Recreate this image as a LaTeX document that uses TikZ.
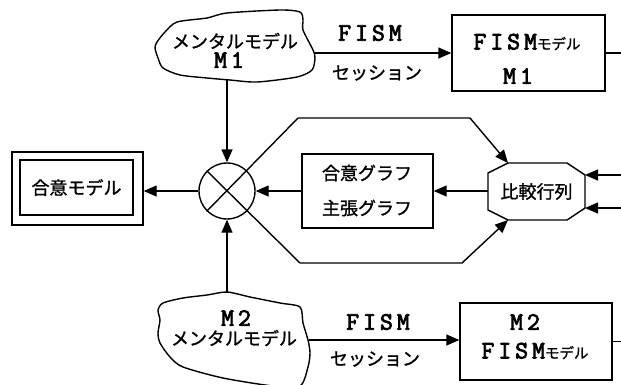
\documentclass[tikz,border=0pt]{standalone}
\usepackage{fontspec}
\newfontfamily\jp[FakeBold=1.2]{Noto Sans CJK JP}
\newfontfamily\mono[LetterSpace=16,FakeBold=3]{Latin Modern Mono}
\usetikzlibrary{arrows.meta}
\begin{document}
\begin{tikzpicture}[x=1pt,y=-1pt, line width=1.4pt,
  jt/.style={font=\jp\fontsize{18}{20}\selectfont, inner sep=0pt},
  lt/.style={font=\mono\fontsize{25}{27}\selectfont, inner sep=0pt},
  box/.style={draw, rectangle, inner sep=0pt},
  arr/.style={-{Triangle[length=13pt,width=11pt]}},
  cloud/.style={line join=round}
]
\useasboundingbox[fill=white] (0,0) rectangle (621,384);

% ---- top cloud (M1)
\draw[cloud] plot[smooth cycle, tension=0.45] coordinates {
 (157,42) (165,32) (177,22) (207,18) (227,13) (280,10) (300,12) (303,20) (303,30)
 (313,50) (315,58) (312,70) (297,77) (257,82) (230,80) (207,78) (180,75) (163,68) (158,58) (155,48)};
\node[jt] (c1a) at (235,41) {メンタルモデル};
\node[lt] (c1m) at (229,60) {M1};
\coordinate (c1b) at (228,80);
\coordinate (c1r) at (314,53);

% ---- bottom cloud (M2)
\draw[cloud] plot[smooth cycle, tension=0.45] coordinates {
 (160,320) (158,310) (163,303) (183,298) (207,295) (227,292) (250,297) (280,303) (300,307)
 (303,323) (308,340) (310,353) (308,367) (300,386) (273,386) (223,378) (183,367) (170,357) (160,343) (158,333)};
\node[lt] (c2m) at (236,318) {M2};
\node[jt] (c2a) at (234,338) {メンタルモデル};
\coordinate (c2t) at (227,293);
\coordinate (c2r) at (309,340);

% ---- FISM model boxes
\node[box, minimum width=153, minimum height=76] (B1) at (528.5,53) {};
\node[inner sep=0pt] (b1a) at (527,42) {\mono\fontsize{25}{27}\selectfont FISM\jp\fontsize{14.5}{16}\selectfont モデル};
\node[lt] (b1m) at (518,76) {M1};
\coordinate (e1) at (621,53);

\node[box, minimum width=152, minimum height=77] (B2) at (536,341.5) {};
\node[lt] (b2m) at (525,322) {M2};
\node[inner sep=0pt] (b2a) at (535,351) {\mono\fontsize{25}{27}\selectfont FISM\jp\fontsize{14.5}{16}\selectfont モデル};
\coordinate (e2) at (621,341.5);

% ---- FISM session arrows
\draw[arr] (c1r) -- (c1r -| B1.west);
\node[lt] (f1) at (370,33) {FISM};
\node[jt] (s1) at (377,73) {セッション};
\draw (B1.east |- e1) -- (e1);

\draw[arr] (c2r) -- (c2r -| B2.west);
\node[lt] (f2) at (378,322) {FISM};
\node[jt] (s2) at (375,359) {セッション};
\draw (B2.east |- e2) -- (e2);

% ---- combining circle
\node[draw, circle, minimum size=56pt, inner sep=0pt] (X) at (227,191) {};
\coordinate (d1) at (298,118);
\coordinate (d2) at (300,263);
\coordinate (t1) at (470,118);
\coordinate (t2) at (462,263);
\draw (X.225) -- (d1);
\draw (X.135) -- (d2);
\draw[arr] (X.north |- c1b) -- (X.north);
\draw[arr] (X.south |- c2t) -- (X.south);

% ---- comparison matrix (octagon)
\node[jt] (cmp) at (536.5,191.5) {比較行列};
\coordinate (o1) at (508,163);
\coordinate (o2) at (567,163);
\coordinate (o3) at (585,175);
\coordinate (o4) at (585,208);
\coordinate (o5) at (567,220);
\coordinate (o6) at (508,220);
\coordinate (o7) at (488,210);
\coordinate (o8) at (488,173);
\draw[line join=round] (o1) -- (o2) -- (o3) -- (o4) -- (o5) -- (o6) -- (o7) -- (o8) -- cycle;
\coordinate (cw) at (488,191);
\coordinate (r1) at (621,175);
\coordinate (r2) at (621,208);
\draw[arr] (r1) -- (o3);
\draw[arr] (r2) -- (o4);
\draw[arr] (d1) -- (t1) -- (o1);
\draw[arr] (d2) -- (t2) -- (o6);

% ---- graph box
\node[box, minimum width=131, minimum height=74] (G) at (367.5,191) {};
\node[jt] (g1) at (367,173) {合意グラフ};
\node[jt] (g2) at (367,208) {主張グラフ};
\draw[arr] (cw) -- (cw -| G.east);
\draw[arr] (G.west) -- (X.east);

% ---- consensus model (double box)
\node[box, minimum width=131, minimum height=73] (A) at (77.5,188.5) {};
\node[box, minimum width=113, minimum height=55, jt] (Ai) at (76.5,187.5) {合意モデル};
\draw[arr] (X.west) -- (X.west -| A.east);
\end{tikzpicture}
\end{document}
